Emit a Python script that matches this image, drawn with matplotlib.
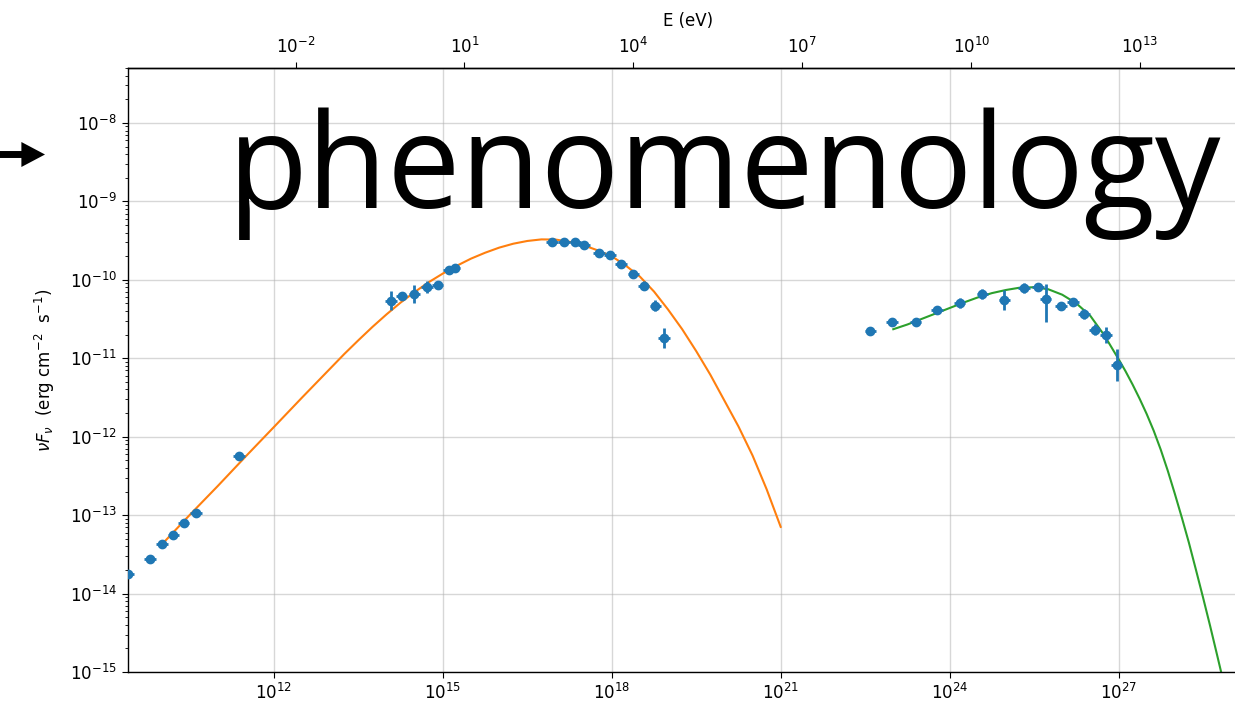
import matplotlib
matplotlib.use('Agg')
import matplotlib.pyplot as plt
import matplotlib.ticker as ticker
import numpy as np

# planck constant in eV s, for the energy axis on top
H_EV = 4.135667696e-15

# radio to x-ray points (nu in Hz, nuFnu in erg/cm2/s)
sync_nu = [2.57e9, 6.3e9, 1.02e10, 1.62e10, 2.5e10, 4.1e10, 2.4e11,
           1.2e14, 1.86e14, 3.1e14, 5.2e14, 8.1e14, 1.29e15, 1.62e15,
           8.7e16, 1.41e17, 2.24e17, 3.2e17, 5.9e17, 9.3e17, 1.45e18,
           2.4e18, 3.7e18, 5.9e18, 8.5e18]
sync_flux = [1.78e-14, 2.75e-14, 4.3e-14, 5.6e-14, 7.9e-14, 1.07e-13, 5.7e-13,
             5.4e-11, 6.2e-11, 6.6e-11, 8.1e-11, 8.6e-11, 1.34e-10, 1.41e-10,
             3.05e-10, 3.05e-10, 3.0e-10, 2.78e-10, 2.2e-10, 2.07e-10, 1.59e-10,
             1.19e-10, 8.4e-11, 4.65e-11, 1.8e-11]
# half widths of the error bars, in dex
sync_err_lo = [0.05, 0.04, 0.05, 0.05, 0.05, 0.05, 0.05,
               0.12, 0.05, 0.12, 0.08, 0.05, 0.05, 0.05,
               0.04, 0.04, 0.04, 0.04, 0.04, 0.04, 0.05,
               0.05, 0.06, 0.07, 0.13]
sync_err_hi = sync_err_lo

# gamma-ray points
ic_nu = [3.9e22, 9.5e22, 2.5e23, 6.0e23, 1.51e24, 3.8e24, 9.3e24, 2.1e25,
         3.7e25, 5.1e25, 9.5e25, 1.55e26, 2.45e26, 3.8e26, 6.0e26, 9.3e26]
ic_flux = [2.23e-11, 2.9e-11, 2.9e-11, 4.1e-11, 5.07e-11, 6.6e-11, 5.5e-11, 7.9e-11,
           8.1e-11, 5.7e-11, 4.65e-11, 5.2e-11, 3.67e-11, 2.3e-11, 1.98e-11, 8.2e-12]
ic_err_lo = [0.05, 0.04, 0.04, 0.05, 0.06, 0.06, 0.13, 0.06,
             0.05, 0.29, 0.05, 0.04, 0.06, 0.07, 0.10, 0.20]
ic_err_hi = [0.05, 0.04, 0.04, 0.05, 0.06, 0.06, 0.13, 0.06,
             0.05, 0.19, 0.05, 0.04, 0.06, 0.07, 0.10, 0.20]
nu_err_dex = 0.1

# model curves (log10 nu, log10 nuFnu)
sync_model_lognu = [10.0, 10.5, 11.0, 11.5, 12.0, 12.5, 13.0, 13.25, 13.5, 13.75,
                    14.0, 14.25, 14.5, 14.75, 15.0, 15.25, 15.5, 15.75, 16.0, 16.25,
                    16.5, 16.75, 17.0, 17.25, 17.5, 17.75, 18.0, 18.25, 18.5, 18.75,
                    19.0, 19.25, 19.5, 19.75, 20.0, 20.25, 20.5, 20.75, 21.0]
sync_model_logf = [-13.38, -13.00, -12.63, -12.25, -11.876, -11.50, -11.13, -10.945,
                   -10.77, -10.60, -10.44, -10.29, -10.155, -10.03, -9.92, -9.82,
                   -9.73, -9.655, -9.59, -9.54, -9.505, -9.485, -9.487, -9.515,
                   -9.56, -9.625, -9.70, -9.82, -9.96, -10.15, -10.38, -10.63,
                   -10.91, -11.21, -11.54, -11.87, -12.24, -12.67, -13.15]
ic_model_lognu = [23.0, 23.25, 23.5, 23.75, 24.0, 24.25, 24.5, 24.75, 25.0, 25.25,
                  25.5, 25.75, 26.0, 26.25, 26.5, 26.75, 27.0, 27.125, 27.25,
                  27.375, 27.5, 27.625, 27.75, 27.875, 28.0, 28.125, 28.25, 28.375,
                  28.5, 28.625, 28.75, 28.875, 29.0]
ic_model_logf = [-10.63, -10.57, -10.50, -10.43, -10.36, -10.29, -10.225, -10.17,
                 -10.13, -10.10, -10.095, -10.12, -10.19, -10.30, -10.46, -10.71,
                 -11.01, -11.166, -11.335, -11.516, -11.71, -11.924, -12.165,
                 -12.434, -12.727, -13.032, -13.351, -13.696, -14.046, -14.406,
                 -14.78, -15.159, -15.54]

nu_ticks = [1e12, 1e15, 1e18, 1e21, 1e24, 1e27]
e_ticks = [1e-2, 1e1, 1e4, 1e7, 1e10, 1e13]

plt.rcParams['font.size'] = 12
plt.rcParams['axes.linewidth'] = 1.0
plt.rcParams['xtick.major.size'] = 4.5
plt.rcParams['ytick.major.size'] = 4.5
plt.rcParams['ytick.minor.size'] = 2.5

fig = plt.figure(figsize=(12.35, 7.15), dpi=100)
ax = fig.add_axes([128 / 1235., 43 / 715., 1120 / 1235., 604 / 715.])


def dex_err(flux, lo, hi):
    flux = np.asarray(flux)
    return [flux - flux * 10 ** -np.asarray(lo), flux * 10 ** np.asarray(hi) - flux]


def nu_err(nu):
    nu = np.asarray(nu)
    return [nu - nu * 10 ** -nu_err_dex, nu * 10 ** nu_err_dex - nu]


ax.plot(10 ** np.array(sync_model_lognu), 10 ** np.array(sync_model_logf),
        color='tab:orange', lw=1.5, zorder=2)
ax.plot(10 ** np.array(ic_model_lognu), 10 ** np.array(ic_model_logf),
        color='tab:green', lw=1.5, zorder=2)

for nu, fl, lo, hi in [(sync_nu, sync_flux, sync_err_lo, sync_err_hi),
                       (ic_nu, ic_flux, ic_err_lo, ic_err_hi)]:
    ax.errorbar(nu, fl, yerr=dex_err(fl, lo, hi), xerr=nu_err(nu),
                fmt='o', color='tab:blue', ms=6, elinewidth=2, capsize=0, zorder=3)

ax.set_xscale('log')
ax.set_yscale('log')
ax.set_xlim(10 ** 9.407, 10 ** 29.3)
ax.set_ylim(1e-15, 10 ** -7.3)

ax.xaxis.set_major_locator(ticker.FixedLocator(nu_ticks))
ax.xaxis.set_minor_locator(ticker.NullLocator())
ax.yaxis.set_major_locator(ticker.LogLocator(base=10, numticks=20))
ax.yaxis.set_minor_locator(ticker.LogLocator(base=10, subs=np.arange(2, 10), numticks=20))
ax.yaxis.set_minor_formatter(ticker.NullFormatter())
ax.grid(True, which='major', color='#b0b0b0', alpha=0.5, lw=1.0)
ax.set_ylabel(r'$\nu F_{\nu}$  (erg cm$^{-2}$  s$^{-1}$)', labelpad=9)

top = ax.secondary_xaxis('top', functions=(lambda x: x * H_EV, lambda e: e / H_EV))
top.xaxis.set_major_locator(ticker.FixedLocator(e_ticks))
top.xaxis.set_minor_locator(ticker.NullLocator())
top.xaxis.set_major_formatter(ticker.LogFormatterSciNotation())
top.set_xlabel('E (eV)', labelpad=7.5)

# big slide title over the plot, sized to its box
title = fig.text(228 / 1235., 1 - 208 / 715., 'phenomenology', family='Open Sans',
                 fontsize=96, color='black', ha='left', va='baseline', zorder=10)
fig.canvas.draw()
w = title.get_window_extent().width
title.set_fontsize(96 * 994. / w)

ax.annotate('', xy=(45, 715 - 154.5), xytext=(0, 715 - 154.5),
            xycoords='figure pixels', textcoords='figure pixels',
            arrowprops=dict(width=5, headwidth=18, headlength=17,
                            facecolor='black', edgecolor='none', shrink=0),
            annotation_clip=False)

fig.savefig('out.png', dpi=100)
